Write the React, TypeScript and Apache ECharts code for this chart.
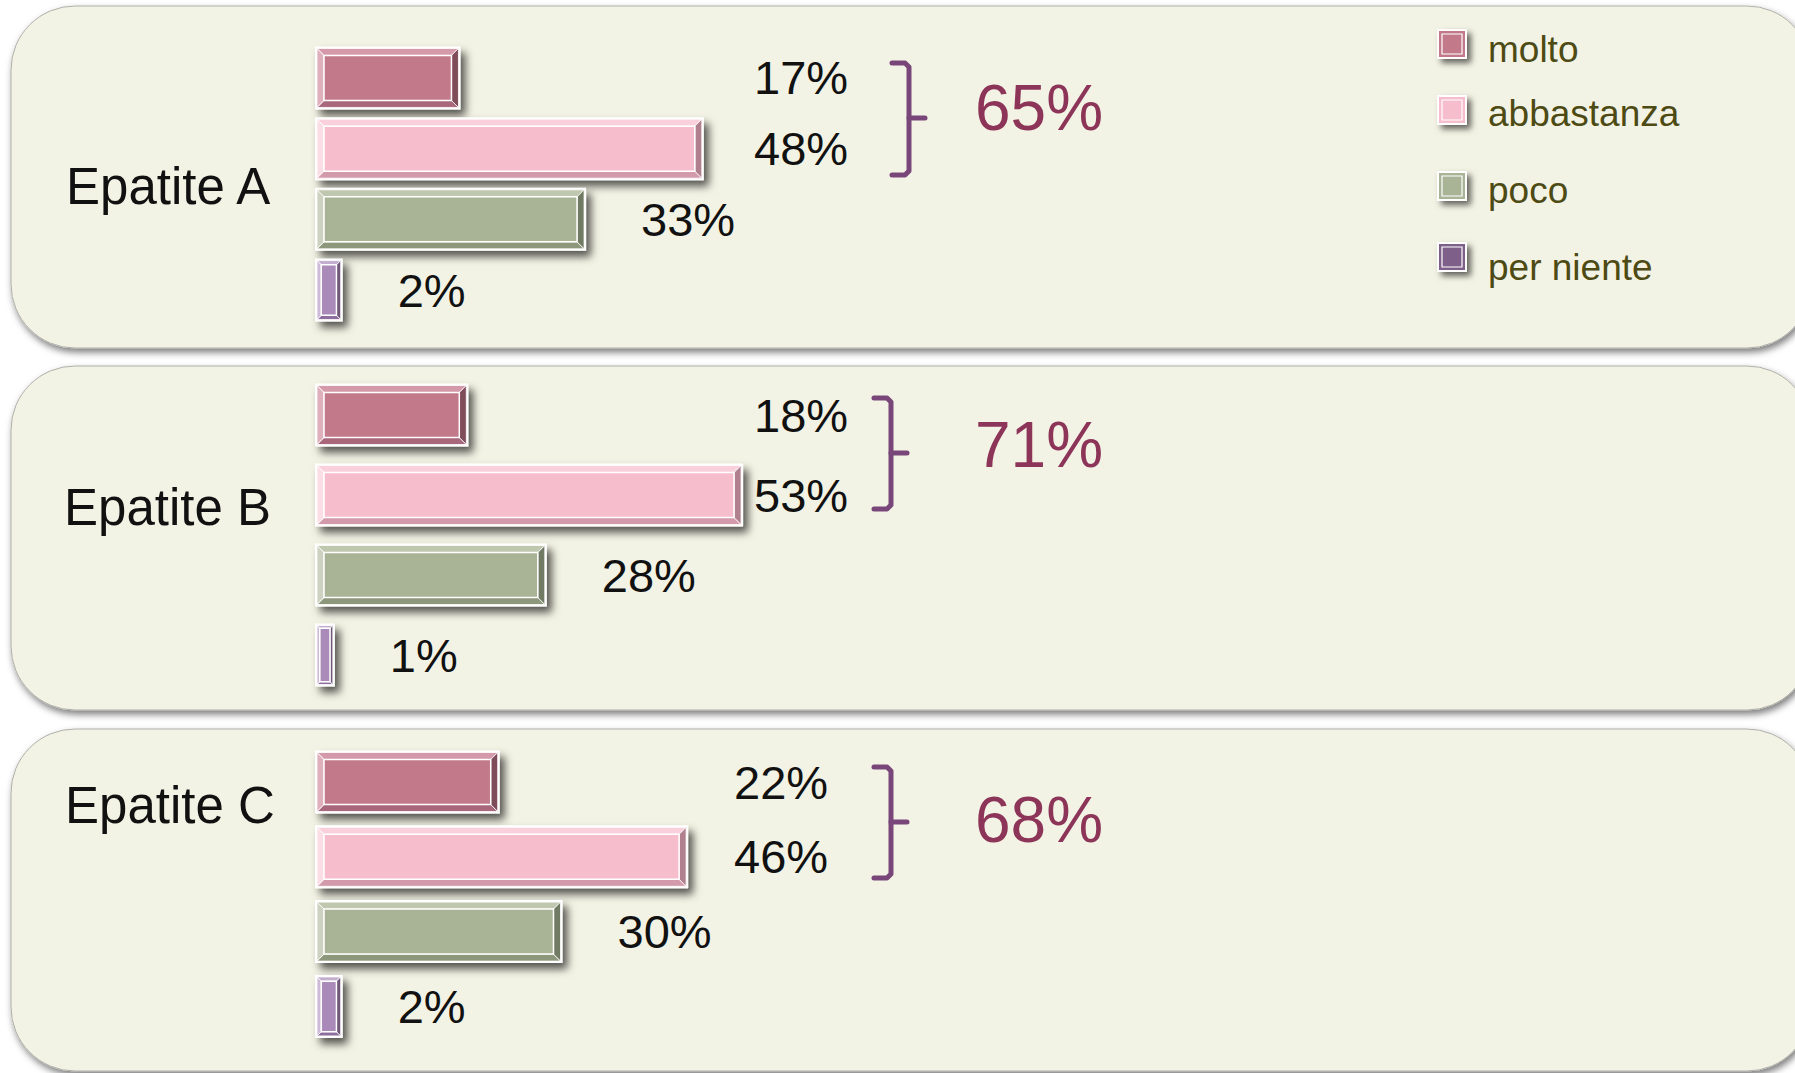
import React, { useEffect, useRef } from 'react';
import * as echarts from 'echarts';

// ---- data ----
const categories = ['molto', 'abbastanza', 'poco', 'per niente'];
const panels = ['Epatite A', 'Epatite B', 'Epatite C'];
const moltoValues = [17, 18, 22];
const abbastanzaValues = [48, 53, 46];
const pocoValues = [33, 28, 30];
const perNienteValues = [2, 1, 2];
const seriesValues = [moltoValues, abbastanzaValues, pocoValues, perNienteValues];

// ---- styles ----
const palette = [
  { face: '#C27A8B', top: '#D59AA9', left: '#DDB0BB', bottom: '#A8677A', right: '#7F4C5A', legend: '#C27A8B' },
  { face: '#F6BDCC', top: '#F9D0DB', left: '#FBDDE5', bottom: '#D29AAA', right: '#B0808E', legend: '#F6BDCC' },
  { face: '#A9B396', top: '#C0C7AF', left: '#CDD2C0', bottom: '#8D977B', right: '#717A62', legend: '#A9B396' },
  { face: '#A98AB8', top: '#C3AED0', left: '#CDB9D8', bottom: '#8D6E9C', right: '#6F587A', legend: '#7D5F8A' },
];
const FONT = "'Liberation Sans', Arial, Helvetica, sans-serif";
const W = 1795;
const H = 1073;

export default function App() {
  const ref = useRef<HTMLDivElement>(null);

  useEffect(() => {
    if (!ref.current) return;
    const chart = echarts.init(ref.current, null, { renderer: 'svg', width: W, height: H });

    const gridLeft = 315;
    const gridWidth = 785;
    const FRAME = 12;
    const BAR_H = 63;
    const gridBoxes = [
      { top: 42.6, height: 282.8 },
      { top: 375, height: 320 },
      { top: 744.6, height: 299.2 },
    ];
    const panelBoxes = [
      { y: 6, h: 342 },
      { y: 366, h: 344 },
      { y: 729, h: 342 },
    ];
    const labelCol = [754, 754, 734];
    const panelLabel = [
      { x: 66, y: 186 },
      { x: 64, y: 507 },
      { x: 65, y: 805 },
    ];
    const brackets = [
      { x: 909, top: 63, bottom: 175, mid: 118 },
      { x: 891, top: 398, bottom: 509, mid: 453 },
      { x: 891, top: 767, bottom: 878, mid: 822 },
    ];
    const totalPos = [
      { x: 975, y: 108 },
      { x: 975, y: 445 },
      { x: 975, y: 820 },
    ];
    const legendPos = [
      { sq: 44, tx: 49 },
      { sq: 110, tx: 113 },
      { sq: 186, tx: 190 },
      { sq: 257, tx: 267 },
    ];

    const makeRender = (p: number) => (params: any, api: any) => {
      const v = api.value(0);
      const j = api.value(1);
      const p0 = api.coord([0, j]);
      const p1 = api.coord([v, j]);
      const x = p0[0];
      const cy = p0[1];
      const w = p1[0] - p0[0] + FRAME;
      const h = BAR_H;
      const y = cy - h / 2;
      const c = palette[j];
      const x1 = x + 2;
      const y1 = y + 2;
      const w1 = w - 4;
      const h1 = h - 4;
      const b = Math.min(7, w1 * 0.18);
      const edge = { stroke: '#ffffff', lineWidth: 0.8 };
      const lx = j < 2 ? labelCol[p] : x + w + 55;
      return {
        type: 'group',
        children: [
          {
            type: 'rect',
            shape: { x, y, width: w, height: h },
            style: {
              fill: '#ffffff',
              shadowBlur: 9,
              shadowOffsetX: 5,
              shadowOffsetY: 6,
              shadowColor: 'rgba(0,0,0,0.65)',
            },
          },
          {
            type: 'polygon',
            shape: { points: [[x1, y1], [x1 + w1, y1], [x1 + w1 - b, y1 + b], [x1 + b, y1 + b]] },
            style: { fill: c.top, ...edge },
          },
          {
            type: 'polygon',
            shape: { points: [[x1, y1 + h1], [x1 + w1, y1 + h1], [x1 + w1 - b, y1 + h1 - b], [x1 + b, y1 + h1 - b]] },
            style: { fill: c.bottom, ...edge },
          },
          {
            type: 'polygon',
            shape: { points: [[x1, y1], [x1 + b, y1 + b], [x1 + b, y1 + h1 - b], [x1, y1 + h1]] },
            style: { fill: c.left, ...edge },
          },
          {
            type: 'polygon',
            shape: { points: [[x1 + w1, y1], [x1 + w1 - b, y1 + b], [x1 + w1 - b, y1 + h1 - b], [x1 + w1, y1 + h1]] },
            style: { fill: c.right, ...edge },
          },
          {
            type: 'rect',
            shape: { x: x1 + b, y: y1 + b, width: Math.max(1, w1 - 2 * b), height: h1 - 2 * b },
            style: { fill: c.face, stroke: '#ffffff', lineWidth: 1.5 },
          },
          {
            type: 'text',
            style: {
              text: v + '%',
              x: lx,
              y: cy,
              fill: '#111111',
              fontSize: 47,
              fontFamily: FONT,
              align: 'left',
              verticalAlign: 'middle',
            },
          },
        ],
      };
    };

    const grids = gridBoxes.map((g) => ({ left: gridLeft, width: gridWidth, top: g.top, height: g.height }));
    const xAxes = gridBoxes.map((_, i) => ({ type: 'value', gridIndex: i, min: 0, max: 100, show: false }));
    const yAxes = gridBoxes.map((_, i) => ({
      type: 'category',
      gridIndex: i,
      data: categories,
      inverse: true,
      show: false,
    }));
    const series = panels.map((name, p) => ({
      type: 'custom',
      name,
      xAxisIndex: p,
      yAxisIndex: p,
      encode: { x: 0, y: 1 },
      clip: false,
      z: 5,
      renderItem: makeRender(p),
      data: categories.map((_, j) => [seriesValues[j][p], j]),
    }));

    const elements: any[] = [];
    panelBoxes.forEach((b) => {
      elements.push({
        type: 'rect',
        z: 0,
        shape: { x: 11, y: b.y, width: 1800, height: b.h, r: 64 },
        style: {
          fill: '#F3F3E5',
          stroke: '#AFAFA9',
          lineWidth: 1,
          shadowBlur: 7,
          shadowOffsetX: 2,
          shadowOffsetY: 4,
          shadowColor: 'rgba(0,0,0,0.5)',
        },
      });
    });
    panels.forEach((name, p) => {
      elements.push({
        type: 'text',
        z: 1,
        style: {
          text: name,
          x: panelLabel[p].x,
          y: panelLabel[p].y,
          fill: '#111111',
          fontSize: 51,
          fontFamily: FONT,
          align: 'left',
          verticalAlign: 'middle',
        },
      });
      const br = brackets[p];
      elements.push({
        type: 'polyline',
        z: 1,
        shape: {
          points: [
            [br.x - 17, br.top],
            [br.x - 4, br.top],
            [br.x, br.top + 4],
            [br.x, br.bottom - 4],
            [br.x - 4, br.bottom],
            [br.x - 17, br.bottom],
          ],
        },
        style: { stroke: '#784679', lineWidth: 5, fill: 'none', lineJoin: 'round', lineCap: 'round' },
      });
      elements.push({
        type: 'line',
        z: 1,
        shape: { x1: br.x, y1: br.mid, x2: br.x + 16, y2: br.mid },
        style: { stroke: '#784679', lineWidth: 5, lineCap: 'round' },
      });
      const total = moltoValues[p] + abbastanzaValues[p];
      elements.push({
        type: 'text',
        z: 1,
        style: {
          text: total + '%',
          x: totalPos[p].x,
          y: totalPos[p].y,
          fill: '#8C3559',
          fontSize: 64,
          fontFamily: FONT,
          align: 'left',
          verticalAlign: 'middle',
        },
      });
    });
    categories.forEach((name, j) => {
      const lp = legendPos[j];
      const sx = 1437;
      const sy = lp.sq - 15;
      elements.push({
        type: 'group',
        z: 1,
        children: [
          {
            type: 'rect',
            shape: { x: sx, y: sy, width: 30, height: 30 },
            style: {
              fill: '#ffffff',
              shadowBlur: 6,
              shadowOffsetX: 4,
              shadowOffsetY: 4,
              shadowColor: 'rgba(0,0,0,0.6)',
            },
          },
          {
            type: 'rect',
            shape: { x: sx + 2, y: sy + 2, width: 26, height: 26 },
            style: { fill: palette[j].legend },
          },
          {
            type: 'rect',
            shape: { x: sx + 5, y: sy + 5, width: 20, height: 20 },
            style: { fill: palette[j].legend, stroke: '#ffffff', lineWidth: 1.2 },
          },
        ],
      });
      elements.push({
        type: 'text',
        z: 1,
        style: {
          text: name,
          x: 1488,
          y: lp.tx,
          fill: '#4D4A14',
          fontSize: 37,
          fontFamily: FONT,
          align: 'left',
          verticalAlign: 'middle',
        },
      });
    });

    chart.setOption({
      animation: false,
      backgroundColor: '#ffffff',
      grid: grids,
      xAxis: xAxes,
      yAxis: yAxes,
      series,
      graphic: { elements },
    });

    return () => {
      chart.dispose();
    };
  }, []);

  return (
    <div
      ref={ref}
      style={{ position: 'fixed', left: 0, top: 0, width: W, height: H, background: '#ffffff' }}
    />
  );
}
